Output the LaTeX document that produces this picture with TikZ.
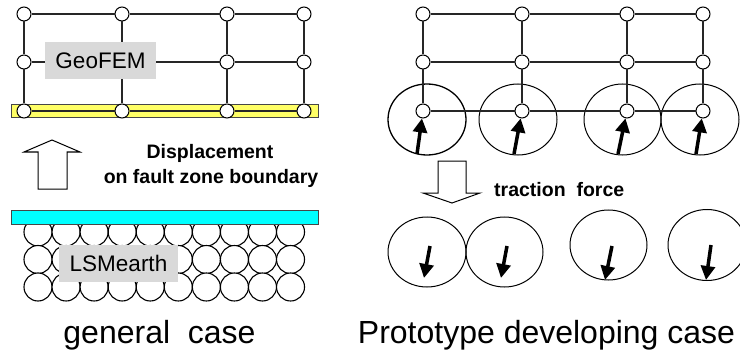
\documentclass[tikz,border=0pt]{standalone}
\usepackage{fontspec}
\setmainfont{Liberation Sans}
\usetikzlibrary{shapes.geometric,arrows.meta}
\definecolor{barline}{RGB}{70,70,70}
\definecolor{fillyellow}{RGB}{255,255,102}
\definecolor{fillcyan}{RGB}{0,255,255}
\definecolor{labgray}{RGB}{217,217,217}
\begin{document}
\begin{tikzpicture}[x=1pt,y=-1pt,
  gn/.style={circle,draw,fill=white,line width=1pt,minimum size=14pt,inner sep=0pt},
  gl/.style={line width=1.2pt,draw=black!85},
  barbox/.style={draw=barline,line width=1pt},
  lab/.style={fill=labgray,inner sep=0pt,font=\fontsize{22.5}{27}\selectfont},
  boldtext/.style={inner sep=0pt,font=\bfseries\fontsize{19.5}{23}\selectfont},
  captext/.style={inner sep=0pt,font=\fontsize{32}{36}\selectfont},
  ell/.style={ellipse,draw,line width=1pt,inner sep=0pt},
  part/.style={circle,draw,fill=white,line width=1.1pt,minimum size=28pt,inner sep=0pt},
  thick arrow/.style={line width=3.5pt,-{Triangle[length=14pt,width=14pt]}},
  hollow/.style={draw,fill=white,line width=1pt,line join=miter}
]
\useasboundingbox (0,0) rectangle (740,353);
\clip (0,0) rectangle (740,353);

% ---------- left: GeoFEM grid ----------
\path[barbox,fill=fillyellow] (11,105) rectangle (318,118);
\foreach \x [count=\i] in {24,122,227,304}
  \foreach \y [count=\j] in {14,62,111}
    \node[gn] (L\j\i) at (\x,\y) {};
\foreach \j in {1,2,3}
  \foreach \i/\k in {1/2,2/3,3/4}
    \draw[gl] (L\j\i) -- (L\j\k);
\foreach \i in {1,2,3,4}
  \foreach \j/\k in {1/2,2/3}
    \draw[gl] (L\j\i) -- (L\k\i);
\node[lab,minimum width=111pt,minimum height=37pt] (geofem) at (100.5,60.5) {GeoFEM};

% hollow up arrow and label
\draw[hollow] (38,189) -- (38,152) -- (24,152) -- (52,140) -- (80,152) -- (67,152) -- (67,189) -- cycle;
\node[boldtext,anchor=base] (disp1) at (210,158) {Displacement};
\node[boldtext,anchor=base] (disp2) at (211,183) {on fault zone boundary};

% ---------- left: LSMearth particles ----------
\foreach \y [count=\j] in {232,259.5,287}
  \foreach \i in {0,...,9}
    \node[part] (P\j\i) at ({38+28.06*\i},\y) {};
\path[barbox,fill=fillcyan] (11,210) rectangle (318,224);
\node[lab,minimum width=119pt,minimum height=37pt] (lsm) at (118.5,263.5) {LSMearth};

% ---------- right: prototype ----------
\node[ell,line width=1.3pt,minimum width=78pt,minimum height=71pt] (E1) at (427,119.5) {};
\node[ell,minimum width=78pt,minimum height=71pt] (E2) at (518,119.5) {};
\node[ell,minimum width=77pt,minimum height=71pt] (E3) at (622.5,119.5) {};
\node[ell,minimum width=78pt,minimum height=71pt] (E4) at (700,119.5) {};
\foreach \x [count=\i] in {423,522,627,703}
  \foreach \y [count=\j] in {14,62,111}
    \node[gn] (R\j\i) at (\x,\y) {};
\foreach \j in {1,2,3}
  \foreach \i/\k in {1/2,2/3,3/4}
    \draw[gl] (R\j\i) -- (R\j\k);
\foreach \i in {1,2,3,4}
  \foreach \j/\k in {1/2,2/3}
    \draw[gl] (R\j\i) -- (R\k\i);
\coordinate (ta1) at (417,154);
\coordinate (ta2) at (514,154);
\coordinate (ta3) at (618,154);
\coordinate (ta4) at (696,154);
\draw[thick arrow] (ta1) -- (R31);
\draw[thick arrow] (ta2) -- (R32);
\draw[thick arrow] (ta3) -- (R33);
\draw[thick arrow] (ta4) -- (R34);

% hollow down arrow and label
\draw[hollow] (438,161) -- (438,193) -- (423,193) -- (452,203) -- (480,193) -- (466,193) -- (466,161) -- cycle;
\node[boldtext,anchor=base west] (trac) at (494,196.5) {traction\ \ force};

% bottom particles with forces
\node[ell,minimum width=78pt,minimum height=70pt] (B1) at (427,252) {};
\node[ell,minimum width=77pt,minimum height=70pt] (B2) at (504.5,252) {};
\node[ell,minimum width=77pt,minimum height=70pt] (B3) at (608.5,245) {};
\node[ell,minimum width=78pt,minimum height=71pt] (B4) at (707,245) {};
\coordinate (bs1) at (430,246); \coordinate (be1) at (424,278);
\coordinate (bs2) at (507,246); \coordinate (be2) at (501,278);
\coordinate (bs3) at (612,246); \coordinate (be3) at (605,280);
\coordinate (bs4) at (711,245); \coordinate (be4) at (706,280);
\draw[thick arrow] (bs1) -- (be1);
\draw[thick arrow] (bs2) -- (be2);
\draw[thick arrow] (bs3) -- (be3);
\draw[thick arrow] (bs4) -- (be4);

% captions
\node[captext,anchor=base] (gcase) at (159.5,343) {general\ \ case};
\node[captext,anchor=base] (pcase) at (546.5,343) {Prototype developing case};
\end{tikzpicture}
\end{document}
